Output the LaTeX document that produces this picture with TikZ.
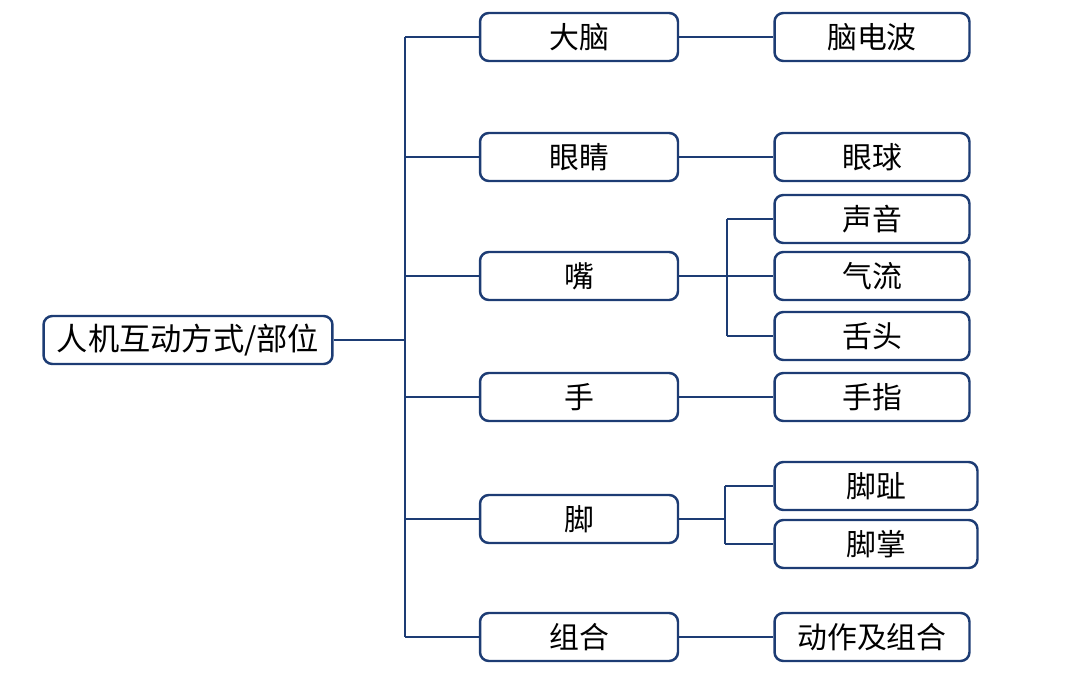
\documentclass[tikz,border=0pt]{standalone}
\usepackage{fontspec}
\setmainfont{Noto Sans CJK SC}
\definecolor{navy}{HTML}{1D3C74}
\tikzset{
  box/.style={draw=navy, line width=1.4pt, rounded corners=5pt, fill=white,
    minimum height=0.96cm, inner sep=0pt, font=\fontsize{17}{19}\selectfont},
  lone/.style={box, minimum width=3.96cm},
  ltwo/.style={box, minimum width=3.9cm},
  link/.style={draw=navy, line width=1.4pt}
}
\begin{document}
\begin{tikzpicture}[x=0.02cm, y=-0.02cm]
  \useasboundingbox (0,0) rectangle (1080,674);
  \draw
    (188,340) node[box, minimum width=5.78cm, font=\fontsize{17.8}{20}\selectfont] (root){人机互动方式/部位}
    (579,37) node[lone] (brain){大脑}
    (579,157) node[lone] (eye){眼睛}
    (579,276) node[lone] (mouth){嘴}
    (579,397) node[lone] (hand){手}
    (579,519) node[lone] (foot){脚}
    (579,637) node[lone] (combo){组合}
    (872,37) node[ltwo] (eeg){脑电波}
    (872,157) node[ltwo] (ball){眼球}
    (872,219) node[ltwo] (voice){声音}
    (872,276) node[ltwo] (air){气流}
    (872,336) node[ltwo] (tongue){舌头}
    (872,397) node[ltwo] (finger){手指}
    (876,486) node[ltwo, minimum width=4.06cm] (toe){脚趾}
    (876,544) node[ltwo, minimum width=4.06cm] (sole){脚掌}
    (872,637) node[ltwo] (act){动作及组合};
  \coordinate (t) at (405,340);
  \coordinate (m) at (727,276);
  \coordinate (f) at (725,519);
  \begin{scope}[link]
    \draw (root) -- (t);
    \draw (t |- brain) -- (t |- combo);
    \draw (t |- brain) -- (brain);
    \draw (t |- eye) -- (eye);
    \draw (t |- mouth) -- (mouth);
    \draw (t |- hand) -- (hand);
    \draw (t |- foot) -- (foot);
    \draw (t |- combo) -- (combo);
    \draw (brain) -- (eeg);
    \draw (eye) -- (ball);
    \draw (mouth) -- (air);
    \draw (m |- voice) -- (m |- tongue);
    \draw (m |- voice) -- (voice);
    \draw (m |- tongue) -- (tongue);
    \draw (hand) -- (finger);
    \draw (foot) -- (f);
    \draw (f |- toe) -- (f |- sole);
    \draw (f |- toe) -- (toe);
    \draw (f |- sole) -- (sole);
    \draw (combo) -- (act);
  \end{scope}
\end{tikzpicture}
\end{document}
